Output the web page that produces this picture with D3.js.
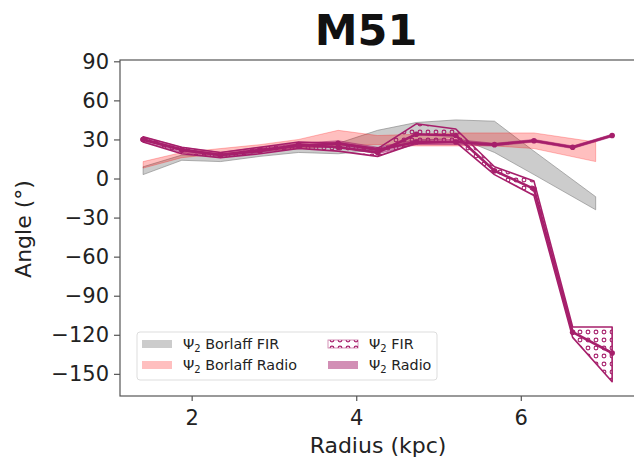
<!DOCTYPE html>
<html><head><meta charset="utf-8">
<script src="https://cdn.jsdelivr.net/npm/d3@7/dist/d3.min.js"></script>
<style>body{margin:0;background:#fff}svg{display:block;font-family:"DejaVu Sans",sans-serif}</style>
</head><body>
<svg id="c" width="634" height="465"></svg>
<script>
// ---- data ----
const title = "M51";
const radius = [1.41, 1.88, 2.35, 2.83, 3.30, 3.78, 4.26, 4.73, 5.21, 5.68, 6.16, 6.63, 7.11];
const borlaffRadius = [1.41, 1.88, 2.35, 2.83, 3.30, 3.78, 4.26, 4.73, 5.21, 5.68, 6.16, 6.91];
const borlaffFirLow  = [3, 14, 13, 17, 20, 19, 22, 28, 32, 20, 3, -24];
const borlaffFirHigh = [9, 18, 17, 21, 25, 27, 37, 43, 45, 44, 21, -14];
const borlaffRadioLow  = [8, 16, 19, 21, 23, 25, 26, 25, 25, 25, 23, 13];
const borlaffRadioHigh = [13, 20, 23, 26, 30, 37, 33, 34, 35, 35, 35, 28];
const firMid  = [30, 22, 18, 21, 26, 24, 20, 34, 33, 6, -8, -118, -134];
const firLow  = [28, 19, 16, 19, 23, 21, 17, 27, 28, 3, -13, -122, -156];
const firHigh = [32, 24, 20, 24, 28, 27, 23, 42, 38, 9, -2, -114, -114];
const radioMid  = [30, 22, 18, 22, 25, 27, 22, 28, 28, 26, 29, 24, 33];
const radioLow  = [28, 20, 16, 20, 23, 24, 19, 26, 26, 25, 28, 23, 32];
const radioHigh = [32, 24, 20, 24, 27, 29, 24, 30, 30, 27, 30, 25, 34];
const xTicks = [2, 4, 6];
const yTicks = [-150, -120, -90, -60, -30, 0, 30, 60, 90];
const legendLabels = ["Borlaff FIR", "Borlaff Radio", "FIR", "Radio"];

// ---- layout ----
const svg = d3.select("#c");
const L = 120, R = 636, T = 60, B = 396;
const x = d3.scaleLinear().domain([1.129, 7.40]).range([L, R]);
const y = d3.scaleLinear().domain([-167, 91]).range([B, T]);
const purple = "#a61f6b";

const defs = svg.append("defs");
const pat = defs.append("pattern").attr("id", "hatchO").attr("patternUnits", "userSpaceOnUse")
  .attr("width", 8).attr("height", 8);
pat.append("circle").attr("cx", 4).attr("cy", 4).attr("r", 1.9)
  .attr("fill", "none").attr("stroke", purple).attr("stroke-width", 1.1);
defs.append("clipPath").attr("id", "clip").append("rect")
  .attr("x", L).attr("y", T).attr("width", R - L).attr("height", B - T);

const g = svg.append("g").attr("clip-path", "url(#clip)");

function band(xs, lo, hi) {
  return d3.area().x((d, i) => x(xs[i])).y0((d, i) => y(lo[i])).y1((d, i) => y(hi[i]))(xs);
}
function outline(xs, lo, hi) {
  const pts = xs.map((v, i) => [x(v), y(hi[i])]).concat(xs.map((v, i) => [x(v), y(lo[i])]).reverse());
  return d3.line()(pts) + "Z";
}

// Borlaff FIR (grey)
g.append("path").attr("d", band(borlaffRadius, borlaffFirLow, borlaffFirHigh))
  .attr("fill", "grey").attr("fill-opacity", 0.4);
g.append("path").attr("d", outline(borlaffRadius, borlaffFirLow, borlaffFirHigh))
  .attr("fill", "none").attr("stroke", "grey").attr("stroke-opacity", 0.6).attr("stroke-width", 1);
// Borlaff Radio (red)
g.append("path").attr("d", band(borlaffRadius, borlaffRadioLow, borlaffRadioHigh))
  .attr("fill", "red").attr("fill-opacity", 0.25);
g.append("path").attr("d", outline(borlaffRadius, borlaffRadioLow, borlaffRadioHigh))
  .attr("fill", "none").attr("stroke", "red").attr("stroke-opacity", 0.25).attr("stroke-width", 1);
// FIR hatched band
g.append("path").attr("d", band(radius, firLow, firHigh)).attr("fill", "url(#hatchO)");
g.append("path").attr("d", outline(radius, firLow, firHigh))
  .attr("fill", "none").attr("stroke", purple).attr("stroke-width", 1.6).attr("stroke-linejoin", "round");
// Radio band
g.append("path").attr("d", band(radius, radioLow, radioHigh))
  .attr("fill", purple).attr("fill-opacity", 0.5)
  .attr("stroke", purple).attr("stroke-opacity", 0.5).attr("stroke-width", 1);

// Center lines
[firMid, radioMid].forEach(vals => {
  g.append("path").attr("d", d3.line().x((d, i) => x(radius[i])).y(d => y(d))(vals))
    .attr("fill", "none").attr("stroke", purple).attr("stroke-width", 2.6).attr("stroke-linejoin", "round");
  g.selectAll(null).data(vals).enter().append("circle")
    .attr("cx", (d, i) => x(radius[i])).attr("cy", d => y(d)).attr("r", 2.8).attr("fill", purple);
});

// Axes
const ax = svg.append("g");
ax.append("rect").attr("x", L).attr("y", T).attr("width", R - L).attr("height", B - T)
  .attr("fill", "none").attr("stroke", "#555").attr("stroke-width", 1.2);
const xa = ax.append("g").attr("transform", `translate(0,${B})`)
  .call(d3.axisBottom(x).tickValues(xTicks).tickSize(5).tickPadding(9).tickFormat(d3.format("d")));
const ya = ax.append("g").attr("transform", `translate(${L},0)`)
  .call(d3.axisLeft(y).tickValues(yTicks).tickSize(6).tickPadding(5).tickFormat(d => d < 0 ? "\u2212" + Math.abs(d) : d));
[xa, ya].forEach(a => {
  a.select(".domain").remove();
  a.selectAll("line").attr("stroke", "#555").attr("stroke-width", 1.2);
  a.selectAll("text").attr("font-size", 21).attr("fill", "#222").attr("font-family", "DejaVu Sans");
});

svg.append("text").attr("x", 378).attr("y", 453).attr("text-anchor", "middle")
  .attr("font-size", 22).attr("fill", "#222").text("Radius (kpc)");
svg.append("text").attr("transform", "translate(31,229) rotate(-90)").attr("text-anchor", "middle")
  .attr("font-size", 22).attr("fill", "#222").text("Angle (°)");
svg.append("text").attr("x", 366).attr("y", 45).attr("text-anchor", "middle")
  .attr("font-size", 43).attr("font-weight", "bold").attr("fill", "#111").text(title);

// Legend
const lg = svg.append("g");
lg.append("rect").attr("x", 137).attr("y", 332).attr("width", 300).attr("height", 48).attr("rx", 3)
  .attr("fill", "#fff").attr("fill-opacity", 0.85).attr("stroke", "#ddd");
const items = [
  {lab: legendLabels[0], px: 142, ty: 344, kind: "grey"},
  {lab: legendLabels[1], px: 142, ty: 365, kind: "red"},
  {lab: legendLabels[2], px: 328, ty: 344, kind: "fir"},
  {lab: legendLabels[3], px: 328, ty: 365, kind: "radio"}
];
items.forEach(it => {
  const r = lg.append("rect").attr("x", it.px).attr("y", it.ty - 4).attr("width", 30).attr("height", 8);
  if (it.kind === "grey") r.attr("fill", "grey").attr("fill-opacity", 0.4);
  if (it.kind === "red") r.attr("fill", "red").attr("fill-opacity", 0.25);
  if (it.kind === "fir") r.attr("fill", "url(#hatchO)").attr("stroke", purple).attr("stroke-opacity", 0.6).attr("stroke-width", 0.8);
  if (it.kind === "radio") r.attr("fill", purple).attr("fill-opacity", 0.5);
  const t = lg.append("text").attr("x", it.px + 41).attr("y", it.ty + 5).attr("font-size", 14.3).attr("fill", "#222");
  t.append("tspan").text("\u03A8");
  t.append("tspan").attr("font-size", 10).attr("dy", 3).text("2");
  t.append("tspan").attr("dy", -3).text(" " + it.lab);
});
</script>
</body></html>
